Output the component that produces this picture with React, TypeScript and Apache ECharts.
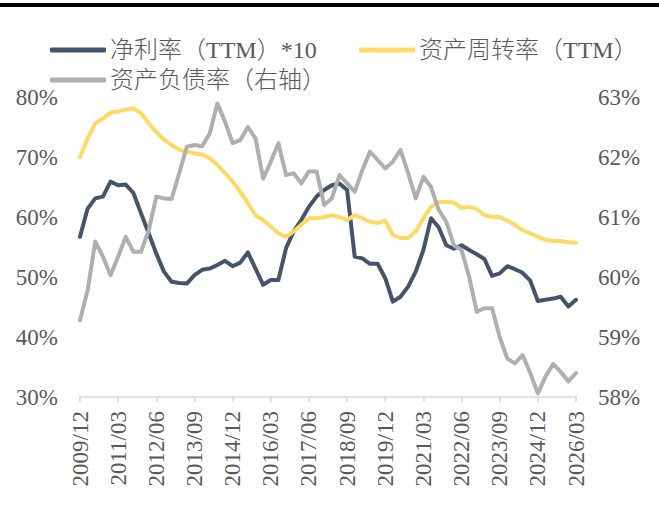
import React, { useEffect, useRef } from "react";
import * as echarts from "echarts";

const categories = [
  "2009/12",
  "2010/03", "2010/06", "2010/09", "2010/12",
  "2011/03", "2011/06", "2011/09", "2011/12",
  "2012/03", "2012/06", "2012/09", "2012/12",
  "2013/03", "2013/06", "2013/09", "2013/12",
  "2014/03", "2014/06", "2014/09", "2014/12",
  "2015/03", "2015/06", "2015/09", "2015/12",
  "2016/03", "2016/06", "2016/09", "2016/12",
  "2017/03", "2017/06", "2017/09", "2017/12",
  "2018/03", "2018/06", "2018/09", "2018/12",
  "2019/03", "2019/06", "2019/09", "2019/12",
  "2020/03", "2020/06", "2020/09", "2020/12",
  "2021/03", "2021/06", "2021/09", "2021/12",
  "2022/03", "2022/06", "2022/09", "2022/12",
  "2023/03", "2023/06", "2023/09", "2023/12",
  "2024/03", "2024/06", "2024/09", "2024/12",
  "2025/03", "2025/06", "2025/09", "2025/12",
  "2026/03",
];

// 净利率（TTM）*10, %
const netMargin = [
  56.7, 61.4, 63.1, 63.4, 65.9, 65.3, 65.4, 64.0, 60.6, 57.3,
  53.9, 50.9, 49.2, 49.0, 48.9, 50.3, 51.2, 51.4, 52.0, 52.7,
  51.8, 52.4, 54.1, 51.4, 48.7, 49.5, 49.5, 54.8, 57.6, 59.5,
  61.7, 63.4, 64.5, 65.3, 65.6, 64.5, 53.4, 53.1, 52.2, 52.2,
  49.8, 45.9, 46.7, 48.4, 50.9, 54.5, 59.8, 58.3, 55.3, 54.7,
  55.3, 54.5, 53.8, 53.0, 50.2, 50.6, 51.8, 51.3, 50.7, 49.4,
  46.0, 46.2, 46.4, 46.7, 45.1, 46.2,
];

// 资产周转率（TTM）, %
const assetTurnover = [
  70.0, 73.1, 75.6, 76.4, 77.4, 77.6, 77.9, 78.1, 77.3, 75.6,
  74.2, 72.9, 72.0, 71.2, 70.9, 70.6, 70.4, 69.8, 68.7, 67.3,
  65.9, 64.2, 62.3, 60.3, 59.5, 58.4, 57.3, 56.7, 57.6, 58.7,
  59.8, 59.8, 60.0, 60.3, 60.0, 59.5, 60.3, 59.8, 59.2, 59.0,
  59.4, 57.0, 56.5, 56.5, 57.6, 59.8, 61.7, 62.5, 62.5, 62.4,
  61.5, 61.7, 61.3, 60.3, 60.0, 60.0, 59.4, 58.7, 57.8, 57.3,
  56.7, 56.2, 56.0, 56.0, 55.8, 55.7,
];

// 资产负债率（右轴）, %
const debtRatio = [
  59.28, 59.78, 60.59, 60.34, 60.03, 60.34, 60.67, 60.42, 60.42, 60.78,
  61.34, 61.31, 61.30, 61.73, 62.17, 62.20, 62.18, 62.39, 62.89, 62.59,
  62.23, 62.28, 62.50, 62.31, 61.64, 61.92, 62.23, 61.70, 61.73, 61.56,
  61.76, 61.76, 61.20, 61.31, 61.70, 61.56, 61.42, 61.78, 62.09, 61.95,
  61.81, 61.92, 62.12, 61.73, 61.31, 61.67, 61.50, 61.12, 60.92, 60.53,
  60.45, 60.00, 59.42, 59.48, 59.48, 59.00, 58.64, 58.56, 58.70, 58.40,
  58.06, 58.34, 58.55, 58.42, 58.26, 58.40,
];

const seriesNames = ["净利率（TTM）*10", "资产周转率（TTM）", "资产负债率（右轴）"];
const seriesColors = ["#44546A", "#FFD966", "#AFAFAF"];

const FONT = "'Liberation Serif', 'Noto Sans CJK SC', serif";
const TEXT_COLOR = "#595959";

export default function App() {
  const ref = useRef<HTMLDivElement>(null);

  useEffect(() => {
    if (!ref.current) return;
    const chart = echarts.init(ref.current, null, { renderer: "svg" });

    const legendBase = {
      orient: "horizontal",
      itemWidth: 56,
      itemHeight: 5,
      icon: "roundRect",
      itemGap: 40,
      textStyle: {
        fontFamily: FONT,
        fontSize: 24,
        fontWeight: 300,
        color: TEXT_COLOR,
        padding: [0, 0, 0, -1],
      },
      selectedMode: false,
    };

    const mkLine = (name: string, data: number[], color: string, yAxisIndex: number) => ({
      name,
      type: "line",
      data,
      yAxisIndex,
      showSymbol: false,
      symbol: "none",
      lineStyle: { color, width: 4, cap: "round", join: "round" },
      itemStyle: { color },
    });

    chart.setOption({
      animation: false,
      backgroundColor: "#ffffff",
      graphic: [
        {
          type: "rect",
          shape: { x: 0, y: 3, width: 659, height: 4 },
          style: { fill: "#000000" },
          silent: true,
        },
      ],
      legend: [
        { ...legendBase, data: [seriesNames[0]], left: 45, top: 33 },
        { ...legendBase, data: [seriesNames[1]], left: 354, top: 33 },
        { ...legendBase, data: [seriesNames[2]], left: 45, top: 63 },
      ],
      grid: { left: 80, right: 83, top: 97, bottom: 109, containLabel: false },
      xAxis: {
        type: "category",
        data: categories,
        boundaryGap: false,
        axisLine: { show: true, lineStyle: { color: "#D9D9D9", width: 1.5 } },
        axisTick: { show: true, interval: 4, length: 5, lineStyle: { color: "#D9D9D9", width: 1.5 } },
        axisLabel: {
          interval: 4,
          rotate: 90,
          margin: 14,
          fontFamily: FONT,
          fontSize: 23,
          color: TEXT_COLOR,
        },
        splitLine: { show: false },
      },
      yAxis: [
        {
          type: "value",
          min: 30,
          max: 80,
          interval: 10,
          axisLine: { show: false },
          axisTick: { show: false },
          splitLine: { show: false },
          axisLabel: {
            formatter: "{value}%",
            margin: 22,
            fontFamily: FONT,
            fontSize: 23,
            color: TEXT_COLOR,
          },
        },
        {
          type: "value",
          min: 58,
          max: 63,
          interval: 1,
          position: "right",
          axisLine: { show: false },
          axisTick: { show: false },
          splitLine: { show: false },
          axisLabel: {
            formatter: "{value}%",
            margin: 22,
            fontFamily: FONT,
            fontSize: 23,
            color: TEXT_COLOR,
          },
        },
      ],
      series: [
        mkLine(seriesNames[0], netMargin, seriesColors[0], 0),
        mkLine(seriesNames[1], assetTurnover, seriesColors[1], 0),
        mkLine(seriesNames[2], debtRatio, seriesColors[2], 1),
      ],
    });

    return () => chart.dispose();
  }, []);

  return (
    <div
      ref={ref}
      style={{ position: "fixed", left: 0, top: 0, width: 659, height: 506, background: "#fff" }}
    />
  );
}
